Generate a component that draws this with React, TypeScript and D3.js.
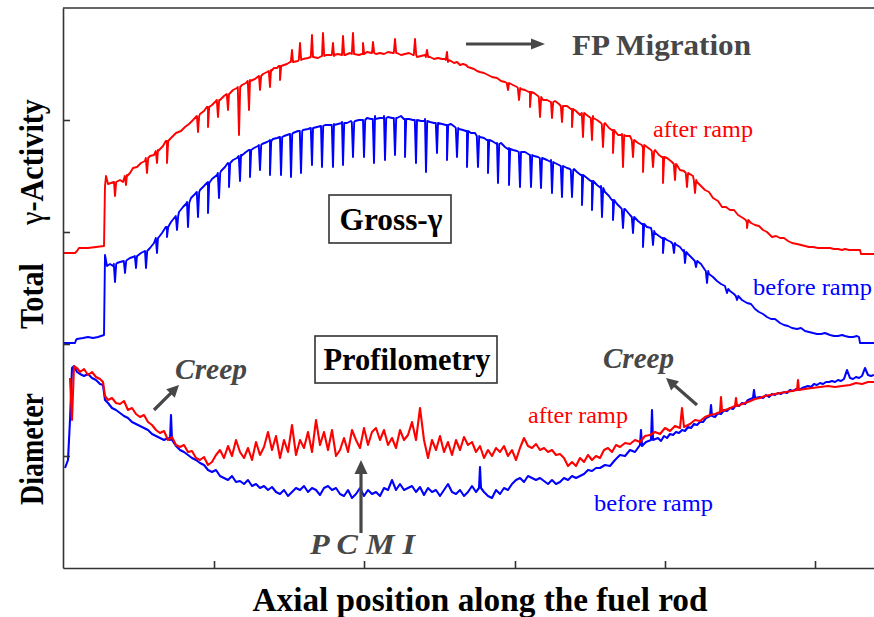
import React, { useEffect, useRef } from 'react';
import * as d3 from 'd3';

const width = 874;
const height = 617;
const margin = { top: 8, right: 0, bottom: 49, left: 63 };

// axial position (arb. units) vs. signal (arb. units)
const xTicks = [151, 301, 452, 602, 752];
const yTicks = [112, 224, 336, 448];

// gross gamma after the power ramp
const gammaAfter: [number, number][] = [
  [0, 315], [12, 315], [14, 317], [16, 320], [25, 320], [33, 321], [41, 322], [42, 382], [43, 392], [45, 384],
  [51, 386], [57, 388], [60, 386], [64, 393], [67, 395], [70, 400], [74, 401], [78, 405], [82, 407], [87, 412],
  [91, 413], [95, 418], [100, 422], [104, 427], [108, 430], [113, 435], [118, 437], [122, 441], [126, 444], [130, 448],
  [134, 451], [137, 454], [141, 457], [145, 461], [149, 463], [152, 466], [157, 468], [161, 472], [166, 474], [170, 478],
  [174, 480], [179, 483], [183, 485], [187, 488], [192, 489], [196, 492], [200, 494], [204, 496], [208, 498], [211, 500],
  [214, 500], [217, 502], [221, 503], [224, 504], [227, 506], [230, 506], [235, 507], [240, 509], [245, 510], [250, 511],
  [255, 510], [259, 512], [263, 513], [267, 513], [271, 512], [275, 514], [279, 513], [282, 513], [287, 515], [291, 514],
  [296, 513], [300, 514], [304, 516], [309, 515], [313, 514], [317, 515], [321, 514], [325, 516], [330, 515], [334, 515],
  [338, 513], [342, 514], [346, 515], [350, 513], [354, 511], [358, 512], [362, 513], [367, 511], [371, 509], [375, 510],
  [379, 509], [382, 509], [385, 506], [388, 507], [391, 505], [394, 506], [397, 503], [400, 504], [403, 503], [405, 501],
  [408, 500], [411, 499], [414, 497], [417, 496], [421, 495], [425, 493], [429, 491], [434, 490], [438, 487], [442, 486],
  [446, 485], [450, 483], [454, 481], [458, 479], [462, 478], [467, 476], [471, 475], [475, 472], [480, 468], [484, 468],
  [488, 466], [492, 467], [496, 464], [500, 462], [504, 462], [509, 459], [513, 457], [517, 453], [521, 454], [525, 452],
  [530, 452], [534, 448], [538, 445], [542, 445], [546, 440], [550, 438], [555, 433], [559, 434], [563, 432], [567, 432],
  [571, 427], [575, 425], [580, 420], [584, 421], [588, 418], [592, 418], [596, 413], [600, 411], [604, 410], [609, 406],
  [613, 404], [617, 398], [621, 397], [625, 394], [630, 392], [634, 386], [638, 382], [642, 378], [646, 376], [650, 370],
  [655, 367], [659, 361], [663, 361], [667, 358], [671, 358], [675, 353], [680, 350], [684, 345], [688, 345], [692, 343],
  [696, 342], [700, 338], [704, 336], [709, 331], [713, 332], [717, 330], [721, 330], [725, 327], [729, 325], [734, 324],
  [738, 323], [742, 322], [746, 321], [750, 321], [755, 320], [759, 320], [763, 320], [767, 320], [771, 319], [775, 319],
  [779, 318], [782, 319], [786, 318], [790, 318], [794, 318], [797, 318], [798, 314], [811, 314],
];

// narrow dips / peaks on the after-ramp trace: [position, level, tip]
const gammaAfterDips: [number, number, number][] = [
  [52, 386, 372], [63, 392, 383], [84, 410, 395], [94, 417, 405], [104, 427, 405], [135, 452, 436], [145, 461, 441],
  [155, 468, 451], [165, 474, 458], [176, 481, 433], [186, 487, 458], [197, 492, 478], [207, 497, 481], [217, 502, 488],
  [229, 506, 518], [237, 508, 525], [249, 511, 533], [260, 512, 535], [270, 513, 525], [280, 513, 532], [290, 514, 535],
  [300, 514, 525], [310, 515, 526], [332, 515, 529], [352, 513, 529], [364, 511, 518], [384, 508, 516],
  [445, 485, 478], [456, 480, 468], [467, 476, 461], [477, 471, 451], [489, 466, 450], [499, 462, 446], [509, 459, 441],
  [520, 455, 431], [529, 450, 428], [540, 444, 421], [550, 438, 415], [560, 433, 401], [570, 428, 411], [580, 423, 396],
  [590, 417, 401], [600, 411, 385], [612, 404, 388], [624, 395, 381], [632, 388, 375], [684, 348, 340],
];

// gross gamma before the power ramp
const gammaBefore: [number, number][] = [
  [0, 225], [12, 225], [13, 228], [14, 229], [20, 230], [25, 231], [30, 230], [35, 231], [41, 233], [42, 313],
  [44, 302], [47, 304], [50, 302], [54, 305], [57, 306], [61, 305], [64, 308], [67, 310], [70, 311], [74, 312],
  [78, 315], [82, 317], [87, 320], [91, 325], [95, 330], [99, 335], [104, 341], [108, 346], [112, 351], [116, 356],
  [120, 361], [124, 366], [128, 370], [132, 374], [137, 378], [141, 382], [145, 386], [149, 389], [154, 393], [158, 397],
  [162, 401], [166, 404], [170, 408], [174, 410], [178, 413], [183, 416], [187, 418], [191, 420], [195, 422], [199, 424],
  [204, 426], [207, 428], [210, 429], [214, 430], [217, 431], [221, 432], [224, 433], [227, 434], [230, 435], [235, 437],
  [240, 438], [245, 439], [250, 440], [254, 441], [258, 442], [262, 443], [267, 443], [271, 444], [275, 444], [279, 446],
  [284, 445], [288, 447], [292, 447], [296, 448], [300, 448], [304, 450], [308, 449], [312, 452], [317, 450], [321, 452],
  [325, 451], [329, 450], [334, 450], [338, 452], [342, 449], [346, 449], [350, 448], [354, 448], [358, 447], [362, 449],
  [367, 446], [371, 445], [375, 445], [379, 444], [384, 443], [388, 444], [392, 441], [396, 439], [400, 438], [404, 437],
  [408, 435], [412, 435], [417, 431], [421, 430], [425, 428], [429, 427], [434, 425], [438, 425], [442, 421], [446, 420],
  [450, 418], [454, 417], [458, 416], [462, 416], [467, 413], [471, 412], [475, 411], [479, 409], [484, 408], [488, 408],
  [492, 405], [496, 403], [500, 402], [504, 400], [507, 399], [511, 399], [514, 396], [519, 393], [524, 390], [529, 387],
  [534, 383], [538, 382], [542, 376], [546, 372], [550, 368], [554, 364], [558, 360], [562, 359], [567, 353], [571, 350],
  [575, 347], [580, 344], [584, 341], [588, 340], [592, 335], [596, 332], [600, 330], [604, 328], [608, 326], [612, 325],
  [617, 321], [621, 318], [625, 314], [629, 310], [634, 306], [638, 304], [642, 298], [646, 294], [650, 291], [654, 287],
  [658, 284], [662, 282], [667, 277], [671, 274], [675, 271], [679, 268], [684, 265], [688, 264], [692, 259], [696, 256],
  [700, 254], [704, 251], [708, 249], [712, 249], [717, 245], [721, 243], [725, 242], [729, 240], [734, 239], [738, 240],
  [742, 237], [746, 236], [750, 235], [754, 234], [758, 234], [762, 235], [767, 233], [771, 232], [775, 232], [779, 233],
  [782, 232], [786, 231], [790, 231], [794, 232], [796, 231], [797, 225], [811, 225],
];

// pellet-interface dips on the before-ramp trace: [position, level, tip]
const gammaBeforeDips: [number, number, number][] = [
  [52, 304, 286], [62, 307, 295], [73, 312, 300], [83, 317, 300], [94, 330, 315], [104, 341, 331], [114, 352, 338],
  [125, 365, 341], [135, 376, 351], [145, 385, 355], [156, 395, 370], [166, 405, 381], [177, 412, 387], [187, 418, 391],
  [197, 423, 398], [207, 427, 393], [218, 431, 393], [228, 434, 391], [238, 437, 395], [249, 440, 403], [259, 442, 401],
  [270, 443, 401], [280, 445, 403], [290, 446, 411], [301, 448, 411], [311, 449, 405], [322, 450, 408], [332, 450, 413],
  [342, 449, 411], [353, 448, 405], [363, 447, 396], [374, 445, 415], [384, 443, 408], [394, 440, 411], [404, 437, 401],
  [415, 432, 401], [425, 428, 395], [435, 424, 385], [446, 419, 383], [457, 416, 381], [468, 413, 381], [478, 410, 380],
  [489, 406, 375], [499, 402, 371], [509, 398, 371], [519, 393, 363], [529, 387, 358], [539, 380, 351], [550, 368, 348],
  [560, 359, 340], [570, 351, 335], [580, 344, 321], [590, 337, 323], [600, 330, 315], [611, 324, 315], [622, 316, 305],
  [633, 307, 301], [644, 297, 285], [664, 279, 275], [674, 272, 268],
];

// outer diameter after the power ramp
const diameterAfter: [number, number][] = [
  [7, 190], [9, 148], [11, 202], [14, 200], [17, 196], [21, 199], [25, 193], [29, 196], [33, 191], [37, 189],
  [40, 186], [42, 172], [45, 168], [49, 170], [53, 165], [57, 164], [61, 167], [65, 158], [69, 160], [73, 154],
  [77, 151], [81, 153], [85, 146], [89, 143], [93, 138], [97, 135], [101, 137], [105, 128], [109, 131], [113, 123],
  [117, 121], [121, 123], [125, 116], [129, 117], [133, 110], [137, 108], [141, 111], [145, 103], [149, 106], [153, 113],
  [157, 118], [161, 110], [165, 122], [169, 112], [173, 128], [177, 116], [181, 110], [185, 120], [189, 108], [193, 126],
  [197, 113], [201, 121], [205, 136], [209, 118], [213, 132], [217, 110], [221, 128], [225, 116], [229, 143], [233, 113],
  [237, 128], [241, 120], [245, 136], [249, 116], [253, 148], [257, 123], [261, 136], [265, 118], [269, 138], [273, 112],
  [277, 118], [281, 130], [285, 116], [289, 138], [293, 128], [297, 120], [301, 140], [305, 123], [309, 136], [313, 140],
  [317, 128], [321, 138], [325, 123], [329, 130], [333, 120], [337, 138], [341, 128], [345, 133], [349, 146], [353, 128],
  [357, 160], [361, 128], [365, 110], [369, 128], [373, 118], [377, 132], [381, 116], [385, 126], [389, 113], [393, 128],
  [397, 118], [401, 131], [405, 123], [409, 126], [413, 116], [417, 122], [421, 110], [425, 118], [429, 112], [433, 120],
  [437, 116], [441, 122], [445, 112], [449, 118], [453, 108], [457, 120], [461, 130], [465, 122], [469, 120], [473, 124],
  [477, 118], [481, 120], [485, 116], [489, 118], [493, 113], [497, 114], [501, 110], [505, 102], [509, 106], [513, 102],
  [517, 110], [521, 106], [525, 113], [529, 108], [533, 112], [537, 110], [541, 118], [545, 120], [549, 116], [553, 123],
  [557, 121], [562, 125], [567, 124], [572, 128], [577, 126], [582, 132], [587, 133], [592, 136], [597, 134], [602, 140],
  [607, 137], [612, 142], [617, 140], [619, 160], [621, 141], [627, 144], [632, 148], [637, 147], [642, 151], [647, 153],
  [652, 154], [657, 156], [658, 171], [659, 157], [665, 159], [672, 162], [673, 170], [674, 162], [679, 164], [685, 166],
  [692, 169], [697, 170], [702, 172], [707, 173], [712, 174], [717, 175], [723, 176], [729, 177], [734, 178], [735, 188],
  [736, 178], [742, 179], [749, 180], [757, 181], [765, 182], [772, 181], [779, 182], [787, 183], [793, 185], [799, 184],
  [805, 186], [811, 186],
];

// outer diameter before the power ramp
const diameterBefore: [number, number][] = [
  [2, 100], [5, 108], [7, 148], [9, 200], [11, 202], [14, 196], [17, 194], [21, 192], [25, 194], [29, 190],
  [33, 188], [37, 184], [40, 183], [42, 168], [45, 165], [49, 160], [53, 158], [57, 155], [61, 152], [65, 150],
  [69, 146], [73, 144], [77, 142], [81, 140], [85, 138], [89, 134], [93, 132], [97, 130], [101, 128], [105, 130],
  [107, 128], [108, 153], [109, 128], [113, 122], [117, 118], [121, 116], [125, 113], [129, 110], [133, 108], [137, 105],
  [141, 103], [145, 98], [149, 96], [153, 98], [157, 92], [161, 90], [165, 88], [169, 92], [173, 86], [177, 87],
  [181, 84], [185, 88], [189, 82], [193, 84], [197, 80], [201, 82], [205, 78], [209, 81], [213, 76], [217, 74],
  [221, 78], [225, 72], [229, 76], [233, 80], [237, 78], [241, 82], [245, 76], [249, 80], [253, 78], [257, 73],
  [261, 80], [265, 82], [269, 78], [273, 80], [277, 74], [281, 72], [285, 78], [289, 70], [293, 74], [297, 80],
  [301, 72], [305, 78], [309, 74], [313, 76], [317, 72], [321, 80], [325, 78], [329, 88], [333, 78], [337, 84],
  [341, 78], [345, 80], [349, 82], [353, 76], [357, 81], [361, 73], [365, 80], [369, 76], [373, 78], [377, 72],
  [381, 78], [385, 84], [389, 76], [393, 74], [397, 78], [401, 72], [405, 76], [409, 82], [413, 76], [416, 80],
  [417, 101], [418, 80], [421, 76], [425, 72], [429, 70], [433, 78], [437, 74], [441, 80], [445, 78], [449, 84],
  [453, 88], [457, 90], [461, 86], [465, 92], [469, 90], [473, 88], [477, 90], [481, 87], [485, 84], [489, 88],
  [493, 84], [497, 86], [501, 90], [505, 88], [509, 92], [513, 90], [517, 92], [521, 94], [525, 98], [529, 97],
  [533, 100], [537, 100], [542, 103], [547, 102], [552, 108], [557, 113], [562, 112], [567, 118], [572, 116], [577, 123],
  [578, 138], [579, 122], [583, 126], [588, 128], [589, 158], [590, 128], [595, 130], [598, 127], [601, 132], [604, 130],
  [607, 134], [610, 133], [613, 136], [616, 135], [619, 138], [622, 137], [625, 141], [628, 140], [631, 144], [634, 143],
  [637, 146], [640, 146], [643, 150], [647, 152], [648, 163], [649, 152], [652, 151], [655, 155], [658, 154], [661, 158],
  [664, 157], [667, 160], [670, 159], [673, 163], [676, 162], [679, 165], [682, 164], [685, 168], [690, 170], [691, 178],
  [692, 170], [697, 171], [700, 170], [703, 173], [706, 171], [709, 174], [712, 173], [715, 175], [718, 174], [721, 176],
  [724, 175], [727, 178], [730, 177], [733, 179], [736, 178], [739, 180], [742, 181], [745, 182], [748, 181], [751, 184],
  [754, 183], [757, 185], [760, 184], [763, 186], [766, 186], [769, 187], [772, 186], [775, 188], [778, 187], [781, 189],
  [784, 198], [787, 190], [790, 189], [793, 191], [796, 190], [799, 192], [802, 200], [805, 193], [808, 192], [811, 193],
];

const x = d3.scaleLinear().domain([0, 811]).range([margin.left, width - margin.right]);
const y = d3.scaleLinear().domain([0, 560]).range([height - margin.bottom, margin.top]);

const line = d3.line<[number, number]>()
  .x(d => x(d[0]))
  .y(d => y(d[1]));

function withDips(trace: [number, number][], dips: [number, number, number][]) {
  const pts: [number, number][] = trace.slice();
  dips.forEach(([pos, level, tip]) => {
    pts.push([pos - 1.2, level], [pos, tip], [pos + 1.2, level]);
  });
  return pts.sort((a, b) => a[0] - b[0]);
}

const serif = "'Liberation Serif', 'Times New Roman', serif";
const grey = '#474747';

function Arrow({ x1, y1, x2, y2, head = 13, half = 6 }: { x1: number; y1: number; x2: number; y2: number; head?: number; half?: number }) {
  const len = Math.hypot(x2 - x1, y2 - y1);
  const ux = (x2 - x1) / len;
  const uy = (y2 - y1) / len;
  const bx = x2 - ux * head;
  const by = y2 - uy * head;
  const pts = [
    [x2, y2],
    [bx - uy * half, by + ux * half],
    [bx + uy * half, by - ux * half],
  ];
  return (
    <g>
      <line x1={x1} y1={y1} x2={bx + ux * 2} y2={by + uy * 2} stroke={grey} strokeWidth={3.2} />
      <polygon points={pts.map(p => p.join(',')).join(' ')} fill={grey} />
    </g>
  );
}

export default function App() {
  const axesRef = useRef<SVGGElement>(null);

  useEffect(() => {
    const g = d3.select(axesRef.current);
    g.selectAll('*').remove();

    g.append('g')
      .attr('transform', 'translate(0,' + y(0) + ')')
      .call(d3.axisBottom(x).tickValues(xTicks).tickSize(-7).tickSizeOuter(0).tickFormat(() => ''));

    g.append('g')
      .attr('transform', 'translate(' + x(0) + ',0)')
      .call(d3.axisLeft(y).tickValues(yTicks).tickSize(-7).tickSizeOuter(0).tickFormat(() => ''));

    g.append('line')
      .attr('x1', x(0)).attr('x2', x(811))
      .attr('y1', y(560)).attr('y2', y(560));

    g.selectAll('.domain, .tick line, line')
      .attr('stroke', '#333')
      .attr('stroke-width', 1.6);
  }, []);

  return (
    <svg width={width} height={height} style={{ position: 'absolute', left: 0, top: 0, background: '#fff' }}>
      <path d={line(withDips(gammaAfter, gammaAfterDips)) || ''} fill="none" stroke="#ff0000" strokeWidth={1.9} strokeLinejoin="round" />
      <path d={line(withDips(gammaBefore, gammaBeforeDips)) || ''} fill="none" stroke="#0000ff" strokeWidth={1.9} strokeLinejoin="round" />
      <path d={line(diameterBefore) || ''} fill="none" stroke="#0000ff" strokeWidth={2.1} strokeLinejoin="round" />
      <path d={line(diameterAfter) || ''} fill="none" stroke="#ff0000" strokeWidth={2.1} strokeLinejoin="round" />

      <g ref={axesRef} />

      <g fontFamily={serif}>
        <text transform="translate(43,162) rotate(-90)" textAnchor="middle" fontSize={34} fontWeight="bold"
          textLength={126} lengthAdjust="spacingAndGlyphs">
          <tspan fontWeight="normal">γ</tspan>-Activity
        </text>
        <text transform="translate(43,296) rotate(-90)" textAnchor="middle" fontSize={34} fontWeight="bold"
          textLength={66} lengthAdjust="spacingAndGlyphs">Total</text>
        <text transform="translate(43,449) rotate(-90)" textAnchor="middle" fontSize={34} fontWeight="bold"
          textLength={112} lengthAdjust="spacingAndGlyphs">Diameter</text>
        <text x={480} y={611} textAnchor="middle" fontSize={34} fontWeight="bold"
          textLength={455} lengthAdjust="spacingAndGlyphs">Axial position along the fuel rod</text>

        <text x={572} y={55} fontSize={30} fontWeight="bold" fill={grey}
          textLength={179} lengthAdjust="spacingAndGlyphs">FP Migration</text>
        <Arrow x1={466} y1={44} x2={545} y2={44} head={14} half={5.5} />

        <text x={653} y={137} fontSize={23} fill="#ff0000" textLength={100} lengthAdjust="spacingAndGlyphs">after ramp</text>
        <text x={753} y={295} fontSize={24} fill="#0000ff" textLength={119} lengthAdjust="spacingAndGlyphs">before ramp</text>
        <text x={528} y={423} fontSize={23} fill="#ff0000" textLength={100} lengthAdjust="spacingAndGlyphs">after ramp</text>
        <text x={594} y={511} fontSize={24} fill="#0000ff" textLength={119} lengthAdjust="spacingAndGlyphs">before ramp</text>

        <rect x={329} y={195} width={122} height={48} fill="#fff" stroke="#333" strokeWidth={1.6} />
        <text x={391} y={230} textAnchor="middle" fontSize={31} fontWeight="bold"
          textLength={103} lengthAdjust="spacingAndGlyphs">Gross-γ</text>

        <rect x={315} y={336} width={182} height={47} fill="#fff" stroke="#333" strokeWidth={1.6} />
        <text x={407} y={370} textAnchor="middle" fontSize={32} fontWeight="bold"
          textLength={167} lengthAdjust="spacingAndGlyphs">Profilometry</text>

        <text x={175} y={379} fontSize={30} fontWeight="bold" fontStyle="italic" fill={grey}
          textLength={72} lengthAdjust="spacingAndGlyphs">Creep</text>
        <Arrow x1={154} y1={410} x2={179} y2={385} head={12} half={6} />

        <text x={603} y={368} fontSize={30} fontWeight="bold" fontStyle="italic" fill={grey}
          textLength={71} lengthAdjust="spacingAndGlyphs">Creep</text>
        <Arrow x1={697} y1={405} x2={666} y2={378} head={12} half={6} />

        <text x={310} y={554} fontSize={30} fontWeight="bold" fontStyle="italic" fill={grey}
          textLength={105} lengthAdjust="spacingAndGlyphs">P C M I</text>
        <Arrow x1={361} y1={533} x2={361} y2={460} head={14} half={6.5} />
      </g>
    </svg>
  );
}
